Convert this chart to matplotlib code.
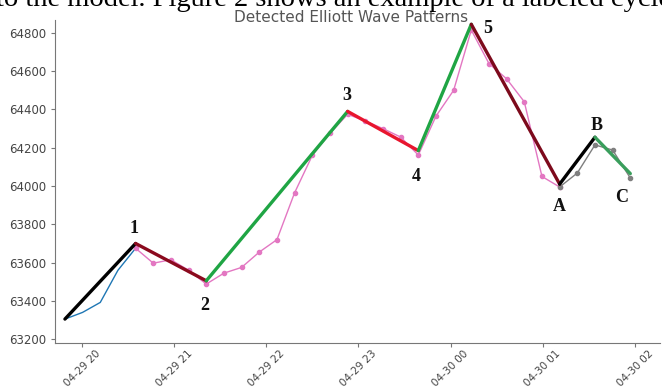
import numpy as np
import pandas as pd
import matplotlib
matplotlib.use("Agg")
import matplotlib.pyplot as plt
import matplotlib.dates as mdates

# price samples (roughly every 11.5 min)
times = pd.date_range("2024-04-29 19:49", periods=33, freq="690s")
prices = [63305, 63340, 63392, 63560, 63675,
          63597, 63615, 63560, 63488,
          63545, 63575, 63655, 63720, 63965, 64160, 64275, 64375,
          64340, 64300, 64256, 64162,
          64365, 64500, 64815,
          64640, 64560, 64440, 64050, 63995,
          64068, 64215, 64188, 64042]

# price line pieces: (start index, end index, colour, marker)
price_pieces = [(0, 4, "tab:blue", None),
                (4, 28, "#e377c2", "o"),
                (28, 32, "#7f7f7f", "o")]

# detected wave pivots
wave_idx = [0, 4, 8, 16, 20, 23, 28, 30, 32]
wave_vals = [63305, 63700, 63505, 64390, 64185, 64845, 64010, 64255, 64065]
wave_names = ["", "1", "2", "3", "4", "5", "A", "B", "C"]
wave_colors = ["black", "#8b0a1e", "#1fa544", "#e8162e", "#1fa544",
               "#7d0a1c", "black", "#3a9e5c"]
label_offsets = [(0, 0), (-2, 15), (-2, -25), (-1, 16), (-2, -26),
                 (16, -4), (0, -22), (2, 12), (-9, -24)]

fig = plt.figure(figsize=(6.62, 3.9), dpi=100)
ax = fig.add_axes([0.083, 0.12, 0.914, 0.829])

for i0, i1, col, mk in price_pieces:
    ax.plot(times[i0:i1 + 1], prices[i0:i1 + 1], color=col, lw=1.0,
            marker=mk, ms=3, zorder=2)

wave_times = times[wave_idx]
for k in range(len(wave_idx) - 1):
    ax.plot(wave_times[k:k + 2], wave_vals[k:k + 2], color=wave_colors[k],
            lw=2.4, solid_capstyle="round", zorder=3)

for t, v, name, off in zip(wave_times, wave_vals, wave_names, label_offsets):
    if not name:
        continue
    ax.annotate(name, (t, v), xytext=off, textcoords="offset pixels",
                ha="center", va="center", fontsize=13, fontweight="bold",
                family="Liberation Serif", color="#111111", zorder=4)

ax.text(0.489, 0.994, "Detected Elliott Wave Patterns", transform=ax.transAxes,
        fontsize=11, color="#555555", ha="center", va="baseline")
ax.set_ylim(63179, 64868)
ax.set_xlim(pd.Timestamp("2024-04-29 19:42:30"), pd.Timestamp("2024-04-30 02:16:20"))
ax.set_yticks(np.arange(63200, 64801, 200))
ax.xaxis.set_major_locator(mdates.HourLocator())
ax.xaxis.set_major_formatter(mdates.DateFormatter("%m-%d %H"))

for s in ["top", "right"]:
    ax.spines[s].set_visible(False)
for s in ["left", "bottom"]:
    ax.spines[s].set_color("#777777")
ax.tick_params(colors="#777777", labelcolor="#444444", labelsize=8.5, length=3)
ax.tick_params(axis="x", labelsize=7.5, pad=1)
plt.setp(ax.get_xticklabels(), rotation=45, ha="center")

# cut-off line of the surrounding paper text
fig.text(-0.006, 1 - 6 / 390, "to the model. Figure 2 shows an example of a labeled cycle.",
         family="Liberation Serif", fontsize=20.5, va="baseline", ha="left")

fig.savefig("out.png", dpi=100)
